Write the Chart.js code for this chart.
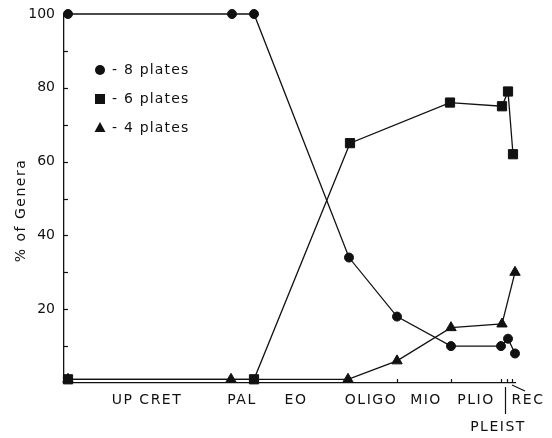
<!DOCTYPE html>
<html>
<head>
<meta charset="utf-8">
<script src="https://cdn.jsdelivr.net/npm/chart.js@4.4.1/dist/chart.umd.min.js"></script>
<style>
  html, body { margin: 0; padding: 0; background: #fff; }
  #wrap { width: 552px; height: 438px; }
</style>
</head>
<body>
<div id="wrap"><canvas id="genera"></canvas></div>
<script>
// --- dados (x = posição relativa no tempo geológico) ---
const plates8X = [4, 168, 190, 285, 333, 387, 437, 444, 451];
const plates8Y = [100, 100, 100, 34, 18, 10, 10, 12, 8];

const plates6X = [4, 190, 286, 386, 438, 444, 449];
const plates6Y = [1, 1, 65, 76, 75, 79, 62];

const plates4X = [4, 167, 284, 333, 387, 438, 451];
const plates4Y = [1, 1, 1, 6, 15, 16, 30];

const yTickValues = [10, 20, 30, 40, 50, 60, 70, 80, 90, 100];
const yLabelValues = [20, 40, 60, 80, 100];
const xTickValues = [285, 333, 387, 437, 443, 448];

const epochNames = ['UP CRET', 'PAL', 'EO', 'OLIGO', 'MIO', 'PLIO', 'REC'];
const epochCenters = [83, 178, 232, 307, 362, 412, 464];
const pleistCenter = 434;
const pleistTick = 441;

const legendNames = ['- 8 plates', '- 6 plates', '- 4 plates'];
const legendShapes = ['circle', 'rect', 'triangle'];

const INK = '#111';
const FONT = '"DejaVu Sans", sans-serif';

function toPoints(xs, ys) {
    return xs.map((x, i) => ({ x: x, y: ys[i] }));
}

function shape(ctx, kind, x, y) {
    ctx.beginPath();
    if (kind === 'circle') {
        ctx.arc(x, y, 5, 0, Math.PI * 2);
    } else if (kind === 'rect') {
        ctx.rect(x - 5, y - 5, 10, 10);
    } else {
        ctx.moveTo(x, y - 6);
        ctx.lineTo(x + 5.5, y + 4);
        ctx.lineTo(x - 5.5, y + 4);
        ctx.closePath();
    }
    ctx.fill();
}

// ticks para dentro, rótulos das épocas, legenda e título do eixo
const decor = {
    id: 'decor',
    afterDraw(chart) {
        const ctx = chart.ctx;
        const xs = chart.scales.x;
        const ys = chart.scales.y;
        const area = chart.chartArea;
        ctx.save();
        ctx.strokeStyle = INK;
        ctx.fillStyle = INK;
        ctx.lineWidth = 1.2;

        yTickValues.forEach(v => {
            const py = Math.round(ys.getPixelForValue(v)) + 0.5;
            ctx.beginPath();
            ctx.moveTo(area.left, py);
            ctx.lineTo(area.left + 4, py);
            ctx.stroke();
        });
        xTickValues.forEach(v => {
            const px = Math.round(xs.getPixelForValue(v)) + 0.5;
            ctx.beginPath();
            ctx.moveTo(px, area.bottom);
            ctx.lineTo(px, area.bottom - 4);
            ctx.stroke();
        });

        ctx.font = '14px ' + FONT;
        ctx.letterSpacing = '1.5px';
        ctx.textAlign = 'center';
        ctx.textBaseline = 'middle';
        epochNames.forEach((name, i) => {
            ctx.fillText(name, xs.getPixelForValue(epochCenters[i]), area.bottom + 17);
        });
        ctx.fillText('PLEIST', xs.getPixelForValue(pleistCenter), area.bottom + 44);

        const lx = Math.round(xs.getPixelForValue(pleistTick)) + 0.5;
        ctx.beginPath();
        ctx.moveTo(lx, area.bottom + 4);
        ctx.lineTo(lx, area.bottom + 31);
        ctx.stroke();
        const rx = xs.getPixelForValue(448);
        ctx.beginPath();
        ctx.moveTo(rx, area.bottom + 2);
        ctx.lineTo(rx + 13, area.bottom + 8);
        ctx.stroke();

        // legenda
        ctx.textAlign = 'left';
        ctx.font = '14px ' + FONT;
        ctx.letterSpacing = '1.2px';
        legendNames.forEach((name, i) => {
            const cy = area.top + 56 + i * 29;
            shape(ctx, legendShapes[i], area.left + 36, cy);
            ctx.fillText(name, area.left + 48, cy);
        });

        // título do eixo y
        ctx.translate(21, ys.getPixelForValue(50) + 12);
        ctx.rotate(-Math.PI / 2);
        ctx.textAlign = 'center';
        ctx.font = '14px ' + FONT;
        ctx.letterSpacing = '1.5px';
        ctx.fillText('% of Genera', 0, 0);
        ctx.restore();
    }
};

function serie(label, xs, ys, style, radius) {
    return {
        label: label,
        data: toPoints(xs, ys),
        showLine: true,
        borderColor: INK,
        borderWidth: 1.3,
        backgroundColor: INK,
        pointStyle: style,
        pointRadius: radius,
        pointBackgroundColor: INK,
        pointBorderColor: INK,
        pointBorderWidth: 1,
        clip: false
    };
}

new Chart(document.getElementById('genera'), {
    type: 'scatter',
    data: {
        datasets: [
            serie('8 plates', plates8X, plates8Y, 'circle', 4.5),
            serie('6 plates', plates6X, plates6Y, 'rect', 6.5),
            serie('4 plates', plates4X, plates4Y, 'triangle', 6)
        ]
    },
    options: {
        responsive: true,
        maintainAspectRatio: false,
        animation: false,
        layout: { padding: { top: 14, right: 37, left: 0, bottom: 0 } },
        plugins: { legend: { display: false }, tooltip: { enabled: false } },
        scales: {
            x: {
                type: 'linear',
                min: 0,
                max: 451,
                grid: { display: false, drawTicks: false },
                border: { display: true, color: INK, width: 1.3 },
                ticks: { display: false },
                afterFit: s => { s.height = 55; s.paddingLeft = 0; s.paddingRight = 0; }
            },
            y: {
                min: 0,
                max: 100,
                grid: { display: false, drawTicks: false },
                border: { display: true, color: INK, width: 1.3 },
                ticks: {
                    stepSize: 10,
                    padding: 9,
                    color: INK,
                    font: { family: FONT, size: 14 },
                    callback: v => yLabelValues.includes(v) ? String(v) : ''
                },
                afterFit: s => { s.width = 64; s.paddingTop = 0; s.paddingBottom = 0; }
            }
        }
    },
    plugins: [decor]
});
</script>
</body>
</html>
